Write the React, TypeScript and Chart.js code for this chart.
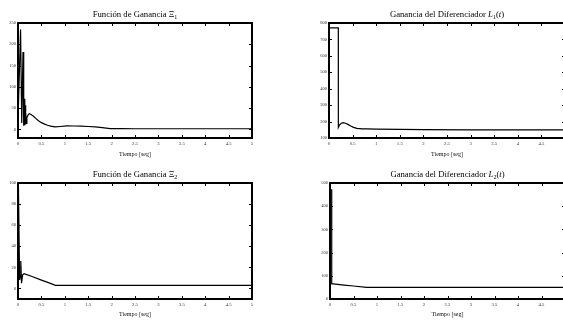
import React, { useEffect, useRef } from 'react';
import { Chart, registerables } from 'chart.js';

Chart.register(...registerables);

// ---------- data ----------
const timeTicks = [0, 0.5, 1, 1.5, 2, 2.5, 3, 3.5, 4, 4.5, 5];

const xi1Time = [0, 0.055, 0.08, 0.107, 0.122, 0.135, 0.145, 0.152, 0.16, 0.168, 0.176, 0.19, 0.21, 0.24, 0.28, 0.33, 0.38, 0.43, 0.5, 0.57, 0.63, 0.7, 0.79, 0.9, 1.04, 1.2, 1.35, 1.5, 1.65, 1.8, 1.97, 2.2, 2.5, 3, 4, 5];
const xi1Values = [20, 235, 15, 182, 9, 72, 10, 57, 12, 40, 14, 28, 33, 37, 35, 31, 26, 21, 16, 12.5, 10, 8, 6, 7, 8.5, 8.2, 7.8, 7, 6, 4.5, 2, 1.8, 1.7, 1.7, 1.7, 1.7];
const xi1Ticks = [0, 50, 100, 150, 200, 250];

const xi2Time = [0, 0.01, 0.035, 0.05, 0.06, 0.075, 0.1, 0.13, 0.3, 0.5, 0.65, 0.8, 1.5, 3, 5];
const xi2Values = [96, 94, 8, 12, 26, 5, 13, 14, 11.3, 7.9, 5.5, 3, 3, 3, 3];
const xi2Ticks = [0, 20, 40, 60, 80, 100];

const l1Time = [0, 0.197, 0.198, 0.22, 0.26, 0.3, 0.35, 0.4, 0.46, 0.52, 0.59, 0.7, 0.8, 1, 1.5, 2, 3, 4, 5];
const l1Values = [770, 770, 165, 178, 190, 193, 190, 183, 173, 165, 159, 156, 155, 154, 153, 151, 150, 150, 150];
const l1Ticks = [100, 200, 300, 400, 500, 600, 700, 800];

const l2Time = [0.02, 0.036, 0.037, 0.07, 0.3, 0.5, 0.78, 1.5, 3, 5];
const l2Values = [470, 470, 65, 65, 60, 56, 50, 50, 50, 50];
const l2Ticks = [0, 100, 200, 300, 400, 500];

// ---------- drawing ----------
type Seg = { text: string; italic?: boolean; sub?: boolean };

const SERIF = '"Liberation Serif", "DejaVu Serif", serif';

const framePlugin = {
  id: 'frame',
  afterDatasetsDraw(chart: any, _args: any, opts: any) {
    const { ctx, chartArea } = chart;
    const { left, right, top, bottom } = chartArea;
    const x = chart.scales.x;
    const y = chart.scales.y;
    ctx.save();
    ctx.strokeStyle = '#000';
    ctx.lineWidth = 1;
    const tl = 3;
    ctx.beginPath();
    x.ticks.forEach((t: any) => {
      const px = Math.round(x.getPixelForValue(t.value)) + 0.5;
      ctx.moveTo(px, bottom);
      ctx.lineTo(px, bottom - tl);
      ctx.moveTo(px, top);
      ctx.lineTo(px, top + tl);
    });
    y.ticks.forEach((t: any) => {
      const py = Math.round(y.getPixelForValue(t.value)) + 0.5;
      ctx.moveTo(left, py);
      ctx.lineTo(left + tl, py);
      ctx.moveTo(right, py);
      ctx.lineTo(right - tl, py);
    });
    ctx.stroke();
    ctx.lineWidth = 2;
    ctx.strokeRect(left, top, right - left, bottom - top);

    // title
    const segs: Seg[] = opts.title || [];
    const size = 8.7;
    const fontOf = (s: Seg) =>
      `${s.italic ? 'italic ' : ''}${s.sub ? size * 0.7 : size}px ${SERIF}`;
    let total = 0;
    segs.forEach((s) => {
      ctx.font = fontOf(s);
      total += ctx.measureText(s.text).width;
    });
    let cx = (left + right) / 2 - total / 2;
    const base = top - 6.5;
    ctx.fillStyle = '#000';
    ctx.textBaseline = 'alphabetic';
    ctx.textAlign = 'left';
    segs.forEach((s) => {
      ctx.font = fontOf(s);
      ctx.fillText(s.text, cx, s.sub ? base + 2 : base);
      cx += ctx.measureText(s.text).width;
    });
    ctx.restore();
  },
};

type PanelProps = {
  left: number;
  top: number;
  width: number;
  height: number;
  padTop: number;
  padRight: number;
  yWidth: number;
  xHeight: number;
  xTitlePad: number;
  yMin: number;
  yMax: number;
  yTicks: number[];
  time: number[];
  values: number[];
  title: Seg[];
};

function Panel(p: PanelProps) {
  const ref = useRef<HTMLCanvasElement | null>(null);
  useEffect(() => {
    if (!ref.current) return;
    const chart = new Chart(ref.current, {
      type: 'line',
      data: {
        datasets: [
          {
            data: p.time.map((t, i) => ({ x: t, y: p.values[i] })),
            borderColor: '#000',
            borderWidth: 1.2,
            pointRadius: 0,
            tension: 0,
            fill: false,
          },
        ],
      },
      options: {
        animation: false,
        responsive: false,
        devicePixelRatio: 1,
        layout: { padding: { top: p.padTop, right: p.padRight, left: 0, bottom: 0 } },
        plugins: {
          legend: { display: false },
          tooltip: { enabled: false },
          title: { display: false },
          frame: { title: p.title },
        } as any,
        scales: {
          x: {
            type: 'linear',
            min: 0,
            max: 5,
            grid: { display: false, drawTicks: false },
            border: { display: false },
            ticks: {
              font: { family: SERIF, size: 4.7 },
              color: '#333',
              padding: 3,
              autoSkip: false,
              maxRotation: 0,
              minRotation: 0,
              callback: (v: any) => String(v),
            },
            title: {
              display: true,
              text: 'Tiempo [seg]',
              color: '#111',
              font: { family: SERIF, size: 6, lineHeight: 1 },
              padding: { top: 0, bottom: p.xTitlePad },
            },
            afterBuildTicks: (s: any) => {
              s.ticks = timeTicks.map((v) => ({ value: v }));
            },
            afterFit: (s: any) => {
              s.height = p.xHeight;
            },
          },
          y: {
            type: 'linear',
            min: p.yMin,
            max: p.yMax,
            grid: { display: false, drawTicks: false },
            border: { display: false },
            ticks: {
              font: { family: SERIF, size: 4.5 },
              color: '#333',
              padding: 2,
              autoSkip: false,
              callback: (v: any) => String(v),
            },
            afterBuildTicks: (s: any) => {
              s.ticks = p.yTicks.map((v) => ({ value: v }));
            },
            afterFit: (s: any) => {
              s.width = p.yWidth;
            },
          },
        },
      },
      plugins: [framePlugin],
    });
    return () => chart.destroy();
  }, []);
  return (
    <canvas
      ref={ref}
      width={p.width}
      height={p.height}
      style={{ position: 'absolute', left: p.left, top: p.top, width: p.width, height: p.height }}
    />
  );
}

export default function App() {
  return (
    <div
      style={{
        position: 'fixed',
        left: 0,
        top: 0,
        width: 563,
        height: 321,
        overflow: 'hidden',
        background: '#fff',
      }}
    >
      <Panel
        left={0}
        top={0}
        width={281}
        height={160}
        padTop={23}
        padRight={29}
        yWidth={18}
        xHeight={22}
        xTitlePad={3}
        yMin={-20}
        yMax={250}
        yTicks={xi1Ticks}
        time={xi1Time}
        values={xi1Values}
        title={[{ text: 'Función de Ganancia ' }, { text: 'Ξ' }, { text: '1', sub: true }]}
      />
      <Panel
        left={281}
        top={0}
        width={290}
        height={160}
        padTop={23}
        padRight={6}
        yWidth={48}
        xHeight={22}
        xTitlePad={3}
        yMin={100}
        yMax={800}
        yTicks={l1Ticks}
        time={l1Time}
        values={l1Values}
        title={[
          { text: 'Ganancia del Diferenciador ' },
          { text: 'L', italic: true },
          { text: '1', sub: true },
          { text: '(' },
          { text: 't', italic: true },
          { text: ')' },
        ]}
      />
      <Panel
        left={0}
        top={160}
        width={281}
        height={161}
        padTop={23}
        padRight={29}
        yWidth={18}
        xHeight={22}
        xTitlePad={4}
        yMin={-10}
        yMax={100}
        yTicks={xi2Ticks}
        time={xi2Time}
        values={xi2Values}
        title={[{ text: 'Función de Ganancia ' }, { text: 'Ξ' }, { text: '2', sub: true }]}
      />
      <Panel
        left={281}
        top={160}
        width={290}
        height={161}
        padTop={23}
        padRight={6}
        yWidth={49}
        xHeight={22}
        xTitlePad={4}
        yMin={0}
        yMax={500}
        yTicks={l2Ticks}
        time={l2Time}
        values={l2Values}
        title={[
          { text: 'Ganancia del Diferenciador ' },
          { text: 'L', italic: true },
          { text: '2', sub: true },
          { text: '(' },
          { text: 't', italic: true },
          { text: ')' },
        ]}
      />
    </div>
  );
}
